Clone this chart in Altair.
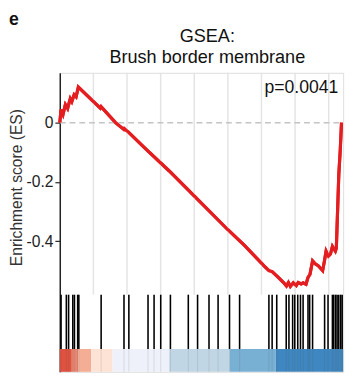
import altair as alt
import pandas as pd

# ---------------- data ----------------
N_GENES = 8430
TITLE_LINES = ["GSEA:", "Brush border membrane"]
PANEL_LABEL = "e"
P_TEXT = "p=0.0041"
Y_TITLE = "Enrichment score (ES)"
y_ticks = [0, -0.2, -0.4]

es_rank = [0, 38, 96, 166, 233, 311, 358, 427, 485, 552, 1206, 1230, 1657, 1904, 1919,
           2049, 2587, 3256, 4041, 5000, 5494, 6076, 6221, 6318, 6500, 6657, 6743, 6802,
           6860, 6947, 7034, 7092, 7180, 7238, 7325, 7384, 7442, 7520, 7600, 7695, 7820,
           7878, 7922, 7994, 8052, 8110, 8198, 8227, 8300, 8343, 8381]
es_value = [0.0, 0.044, 0.028, 0.061, 0.048, 0.081, 0.071, 0.094, 0.087, 0.120, 0.049, 0.054,
            0.0, -0.023, -0.020, -0.033, -0.092, -0.163, -0.252, -0.361, -0.414, -0.483,
            -0.499, -0.502, -0.522, -0.539, -0.551, -0.539, -0.552, -0.540, -0.549, -0.539,
            -0.544, -0.540, -0.545, -0.522, -0.512, -0.466, -0.476, -0.483, -0.499, -0.463,
            -0.433, -0.450, -0.443, -0.417, -0.433, -0.423, -0.176, -0.094, 0.0]

hit_rank = [38, 195, 262, 387, 436, 532, 567, 1230, 1910, 2055, 2625, 2805, 3003, 3291,
            3823, 4099, 4439, 4709, 5049, 5349, 6221, 6317, 6454, 6736, 6817, 6927, 6991,
            7079, 7160, 7238, 7384, 7433, 7520, 7878, 7980, 8110, 8150, 8206, 8250, 8300,
            8358, 8401]

grid_rank = [1000, 2000, 3000, 4000, 5000, 6000, 7000, 8000]

seg_start = [0, 358, 552, 930, 1570, 3256, 5058, 6425]
seg_end = [358, 552, 930, 1570, 3256, 5058, 6425, 8430]
seg_color = ["#de523f", "#ea8670", "#f4ae96", "#fde3d6", "#eef1f9", "#c0d6e5", "#78b0d4", "#3f87c0"]

# ---------------- layout constants ----------------
Y_TOP = 0.168
ES_BOTTOM = -0.58
BAR_BOTTOM = -0.763
Y_BOTTOM = -0.84
W, H = 290, 306
FONT = "Liberation Sans"
TITLE_X = 151
TITLE_Y = [-32, -10]

es_df = pd.DataFrame({"rank": es_rank, "es": es_value})
hit_df = pd.DataFrame({"rank": hit_rank})
grid_df = pd.DataFrame({"rank": grid_rank})
seg_df = pd.DataFrame({"start": seg_start, "end": seg_end, "color": seg_color})
title_df = pd.DataFrame({"t": TITLE_LINES, "py": TITLE_Y})

xs = alt.Scale(domain=[0, N_GENES], nice=False, zero=False)
ys = alt.Scale(domain=[Y_BOTTOM, Y_TOP], nice=False, zero=False)

yaxis = alt.Axis(values=y_ticks, title=Y_TITLE, grid=False,
                 labelExpr="datum.value == 0 ? '0' : '-' + format(abs(datum.value), '.1f')",
                 labelFont=FONT, labelFontSize=16, labelColor="#222", labelPadding=2,
                 tickColor="#222", tickSize=5, tickWidth=1.2,
                 domainColor="#222", domainWidth=1.5,
                 titleFont=FONT, titleFontSize=16, titleFontWeight="normal", titleColor="#333",
                 titleAngle=-90, titleX=-44, titleY=117, titleAlign="center", titleBaseline="middle")

line = alt.Chart(es_df).mark_line(color="#e41e20", strokeWidth=3.2, strokeJoin="miter").encode(
    x=alt.X("rank:Q", scale=xs, axis=None),
    y=alt.Y("es:Q", scale=ys, axis=yaxis),
)

colorbar = alt.Chart(seg_df).mark_rect().encode(
    x=alt.X("start:Q", scale=xs, axis=None),
    x2="end:Q",
    y=alt.datum(BAR_BOTTOM),
    y2=alt.datum(Y_BOTTOM),
    color=alt.Color("color:N", scale=None),
)

faint = alt.Chart(hit_df).mark_rule(color="#555", strokeWidth=1, opacity=0.15).encode(
    x=alt.X("rank:Q", scale=xs, axis=None),
    y=alt.datum(BAR_BOTTOM),
    y2=alt.datum(Y_BOTTOM),
)

grid = alt.Chart(grid_df).mark_rule(color="#e4e4e4", strokeWidth=1.5).encode(
    x=alt.X("rank:Q", scale=xs, axis=None),
    y=alt.datum(Y_TOP),
    y2=alt.datum(ES_BOTTOM),
)

zero = alt.Chart(pd.DataFrame({"v": [0]})).mark_rule(color="#c4c4c4", strokeWidth=1.5,
                                                      strokeDash=[6, 4]).encode(
    y=alt.Y("v:Q", scale=ys),
    x=alt.value(0), x2=alt.value(W),
)

hits = alt.Chart(hit_df).mark_rule(color="#000", strokeWidth=1.6).encode(
    x=alt.X("rank:Q", scale=xs, axis=None),
    y=alt.datum(ES_BOTTOM),
    y2=alt.datum(BAR_BOTTOM),
)

ptext = alt.Chart(pd.DataFrame({"t": [P_TEXT]})).mark_text(
    align="right", baseline="alphabetic", font=FONT, fontSize=18, color="#111").encode(
    text="t:N", x=alt.value(285), y=alt.value(21))

label = alt.Chart(pd.DataFrame({"t": [PANEL_LABEL]})).mark_text(
    align="left", baseline="alphabetic", font=FONT, fontSize=18, fontWeight="bold",
    color="#111").encode(text="t:N", x=alt.value(-52), y=alt.value(-49))

title = alt.Chart(title_df).mark_text(
    align="center", baseline="alphabetic", font=FONT, fontSize=18.5, color="#111").encode(
    text="t:N", x=alt.value(TITLE_X), y=alt.Y("py:Q", scale=None))

chart = alt.layer(line, colorbar, faint, grid, zero, hits, line, ptext, label, title).properties(
    width=W, height=H,
    autosize=alt.AutoSizeParams(type="none"),
    padding={"left": 53, "top": 62, "right": 7, "bottom": 2},
).configure_view(stroke="#222", strokeWidth=1.5).configure(background="white")

chart.save("out.html", embed_options={"renderer": "svg", "actions": False})
